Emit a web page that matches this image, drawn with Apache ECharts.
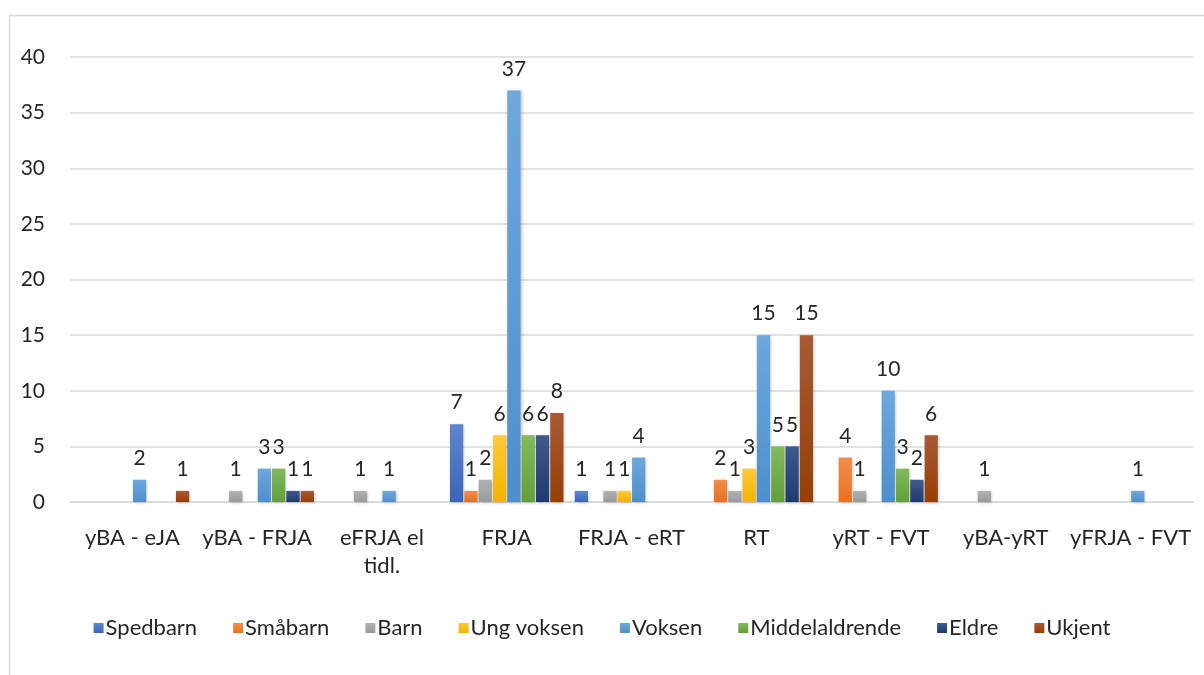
<!DOCTYPE html>
<html>
<head>
<meta charset="utf-8">
<script src="https://cdn.jsdelivr.net/npm/echarts@6/dist/echarts.min.js"></script>
<style>
  html,body{margin:0;padding:0;background:#fff;}
  #chart{width:1204px;height:675px;}
</style>
</head>
<body>
<div id="chart"></div>
<script>
// kategorier og serier
var categories = ['yBA - eJA', 'yBA - FRJA', 'eFRJA el\ntidl.', 'FRJA', 'FRJA - eRT', 'RT', 'yRT - FVT', 'yBA-yRT', 'yFRJA - FVT'];
var seriesNames = ['Spedbarn', 'Småbarn', 'Barn', 'Ung voksen', 'Voksen', 'Middelaldrende', 'Eldre', 'Ukjent'];
var spedbarn = [null, null, null, 7, 1, null, null, null, null];
var smaabarn = [null, null, null, 1, null, 2, 4, null, null];
var barn = [null, 1, 1, 2, 1, 1, 1, 1, null];
var ungVoksen = [null, null, null, 6, 1, 3, null, null, null];
var voksen = [2, 3, 1, 37, 4, 15, 10, null, 1];
var middelaldrende = [null, 3, null, 6, null, 5, 3, null, null];
var eldre = [null, 1, null, 6, null, 5, 2, null, null];
var ukjent = [1, 1, null, 8, null, 15, 6, null, null];
var yTicks = [0, 5, 10, 15, 20, 25, 30, 35, 40];

var seriesData = [spedbarn, smaabarn, barn, ungVoksen, voksen, middelaldrende, eldre, ukjent];
// farger: topp (lys) og bunn
var colTop = ['#5f86cc', '#f28d4f', '#b2b2b2', '#ffca3a', '#6ea8dc', '#83b95f', '#3f5a8c', '#a85a35'];
var colBot = ['#3a66b8', '#e8721f', '#9a9a9a', '#f0b400', '#4d8fcc', '#62a03b', '#1f3a6e', '#963f05'];
var fontFam = 'Lato, "Open Sans", sans-serif';

var myChart = echarts.init(document.getElementById('chart'));
var series = [];
for (var i = 0; i < seriesNames.length; i++) {
  series.push({
    name: seriesNames[i],
    type: 'bar',
    barGap: '8%',
    barCategoryGap: '9%',
    data: seriesData[i],
    itemStyle: {
      color: new echarts.graphic.LinearGradient(0, 0, 0, 1, [
        {offset: 0, color: colTop[i]},
        {offset: 1, color: colBot[i]}
      ]),
      shadowBlur: 3,
      shadowColor: 'rgba(0,0,0,0.25)',
      shadowOffsetX: 1,
      shadowOffsetY: 1
    },
    label: {
      show: true,
      position: 'top',
      distance: 11,
      fontSize: 21,
      color: '#262626',
      fontFamily: fontFam
    }
  });
}

var option = {
  animation: false,
  color: colBot,
  graphic: [{
    type: 'rect',
    left: 7, top: 13,
    shape: {width: 1300, height: 700},
    style: {fill: 'none', stroke: '#d9d9d9', lineWidth: 1.5}
  }],
  grid: {left: 70, right: 11, top: 57, bottom: 173},
  legend: {
    data: seriesNames,
    left: 'center',
    top: 612,
    icon: 'rect',
    itemWidth: 10,
    itemHeight: 10,
    itemGap: 36,
    textStyle: {fontSize: 22, color: '#262626', fontFamily: fontFam, padding: [0, 0, 0, -3]}
  },
  xAxis: {
    type: 'category',
    data: categories,
    axisLine: {lineStyle: {color: '#d9d9d9', width: 1.5}},
    axisTick: {show: false},
    axisLabel: {fontSize: 22, color: '#262626', margin: 22, fontFamily: fontFam, lineHeight: 28, interval: 0}
  },
  yAxis: {
    type: 'value',
    min: yTicks[0],
    max: yTicks[yTicks.length - 1],
    interval: 5,
    axisLine: {show: false},
    axisTick: {show: false},
    splitLine: {lineStyle: {color: '#d9d9d9', width: 1.5}},
    axisLabel: {fontSize: 21, color: '#262626', margin: 25, fontFamily: fontFam}
  },
  series: series
};
myChart.setOption(option);
</script>
</body>
</html>
